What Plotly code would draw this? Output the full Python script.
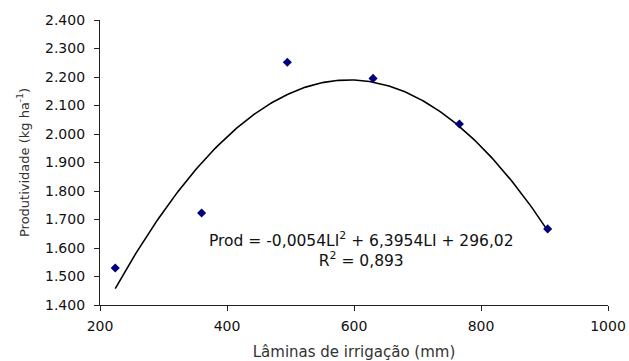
import numpy as np
import plotly.graph_objects as go

# Data
laminas = [224, 360, 495, 630, 766, 905]           # mm
produtividade = [1530, 1723, 2252, 2195, 2035, 1667]  # kg ha-1

# Regression coefficients shown on the chart (Prod = a*LI^2 + b*LI + c)
coef_a = -0.0054
coef_b = 6.3954
coef_c = 296.02
r2_text = "0,893"

x_ticks = [200, 400, 600, 800, 1000]
y_ticks = [1400, 1500, 1600, 1700, 1800, 1900, 2000, 2100, 2200, 2300, 2400]

FONT = "DejaVu Sans, Liberation Sans, Arial, sans-serif"

xt = np.linspace(min(laminas), max(laminas), 200)
yt = coef_a * xt**2 + coef_b * xt + coef_c

fig = go.Figure()
fig.add_trace(go.Scatter(x=xt, y=yt, mode="lines",
                         line=dict(color="black", width=1.6),
                         hoverinfo="skip", showlegend=False))
fig.add_trace(go.Scatter(x=laminas, y=produtividade, mode="markers",
                         marker=dict(symbol="diamond", size=7, color="#00007f"),
                         showlegend=False))

fig.add_annotation(
    x=612, y=1595, xref="x", yref="y",
    text=("Prod = -0,0054LI<sup>2</sup> + 6,3954LI + 296,02<br>"
          "R<sup>2</sup> = " + r2_text),
    showarrow=False, align="center",
    font=dict(family=FONT, size=15.5, color="#111111"),
)

axis_common = dict(
    showgrid=False, zeroline=False, showline=True,
    linecolor="#222222", linewidth=1.2,
    ticks="outside", ticklen=5, tickcolor="#222222", tickwidth=1.2,
    tickfont=dict(family=FONT, size=14, color="#111111"),
    automargin=False,
)

fig.update_xaxes(
    range=[200, 1000], tickvals=x_ticks,
    ticklabelstandoff=3,
    title=dict(text="Lâminas de irrigação (mm)",
               font=dict(family=FONT, size=15, color="#333333"), standoff=14),
    **axis_common,
)
fig.update_yaxes(
    range=[1400, 2400], tickvals=y_ticks, tickformat=",d",
    ticklabelstandoff=6,
    title=dict(text="Produtividade (kg ha<sup>-1</sup>)",
               font=dict(family=FONT, size=13, color="#333333"), standoff=12),
    **axis_common,
)

fig.update_layout(
    width=629, height=361,
    margin=dict(l=100, r=21, t=20, b=56),
    plot_bgcolor="white", paper_bgcolor="white",
    separators=",.",
    font=dict(family=FONT),
)

fig.write_html("out.html",
               config={"displayModeBar": False},
               post_script="document.body.style.margin='0';document.body.style.overflow='hidden';")
